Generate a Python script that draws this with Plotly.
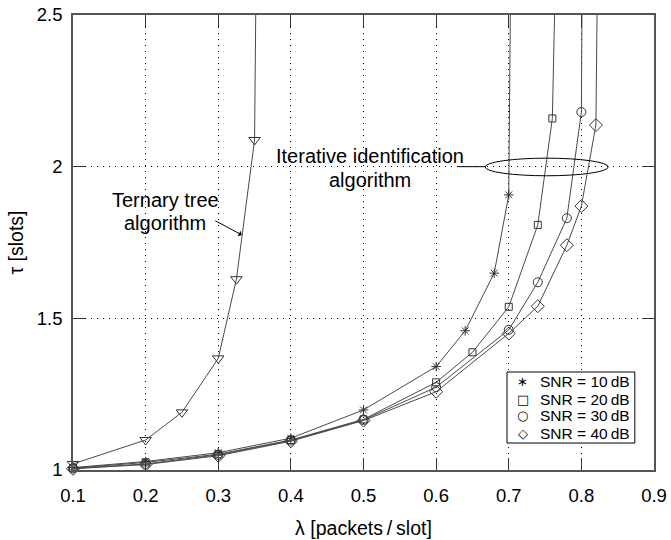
import plotly.graph_objects as go

# ---- data ----
tern_lam = [0.1, 0.2, 0.25, 0.3, 0.325, 0.35]
tern_tau = [1.02, 1.099, 1.19, 1.368, 1.629, 2.088]
tern_asym = 0.352

snr10_lam = [0.1, 0.2, 0.3, 0.4, 0.5, 0.6, 0.64, 0.68, 0.7]
snr10_tau = [1.008, 1.028, 1.057, 1.105, 1.198, 1.341, 1.459, 1.649, 1.907]
snr10_asym = 0.7025

snr20_lam = [0.1, 0.2, 0.3, 0.4, 0.5, 0.6, 0.65, 0.7, 0.74, 0.76]
snr20_tau = [1.006, 1.025, 1.052, 1.099, 1.167, 1.289, 1.388, 1.538, 1.808, 2.159]
snr20_asym = 0.764

snr30_lam = [0.1, 0.2, 0.3, 0.4, 0.5, 0.6, 0.7, 0.74, 0.78, 0.8]
snr30_tau = [1.005, 1.02, 1.05, 1.097, 1.165, 1.273, 1.462, 1.619, 1.83, 2.18]
snr30_asym = 0.801

snr40_lam = [0.1, 0.2, 0.3, 0.4, 0.5, 0.6, 0.7, 0.74, 0.78, 0.8, 0.82]
snr40_tau = [1.004, 1.018, 1.047, 1.095, 1.163, 1.258, 1.45, 1.54, 1.741, 1.87, 2.137]
snr40_asym = 0.822

tau_beyond = 2.6  # curves diverge above the plotted range

legend_labels = ["SNR = 10\u2009dB", "SNR = 20\u2009dB", "SNR = 30\u2009dB", "SNR = 40\u2009dB"]
legend_glyphs = ["\u2217", "\u25a1", "\u25cb", "\u25c7"]

series = [
    (snr10_lam, snr10_tau, snr10_asym, "asterisk-open", 8),
    (snr20_lam, snr20_tau, snr20_asym, "square-open", 7),
    (snr30_lam, snr30_tau, snr30_asym, "circle-open", 9),
    (snr40_lam, snr40_tau, snr40_asym, "diamond-open", 10),
]

x_ticks = [0.1, 0.2, 0.3, 0.4, 0.5, 0.6, 0.7, 0.8, 0.9]
y_ticks = [1, 1.5, 2, 2.5]
y_ticktext = ["1", "1.5", "2", "2.5"]

LINE = "#4a4a4a"
MK = "#333333"
FONT = "Liberation Sans, Arial, sans-serif"

fig = go.Figure()

# ternary tree
fig.add_trace(go.Scatter(x=tern_lam + [tern_asym], y=tern_tau + [tau_beyond], mode="lines",
                         line=dict(color=LINE, width=1), showlegend=False, hoverinfo="skip"))
fig.add_trace(go.Scatter(x=tern_lam, y=tern_tau, mode="markers", cliponaxis=False,
                         marker=dict(symbol="triangle-down-open", size=10, color=MK, line=dict(width=1, color=MK)),
                         showlegend=False))

for (lam, tau, asym, sym, sz), name in zip(series, legend_labels):
    fig.add_trace(go.Scatter(x=lam + [asym], y=tau + [tau_beyond], mode="lines",
                             line=dict(color=LINE, width=1), showlegend=False, hoverinfo="skip"))
    fig.add_trace(go.Scatter(x=lam, y=tau, mode="markers", cliponaxis=False, name=name,
                             marker=dict(symbol=sym, size=sz, color=MK, line=dict(width=1, color=MK)),
                             showlegend=False))

# annotation: ellipse around the iterative curves
fig.add_shape(type="circle", xref="x", yref="y", x0=0.6675, x1=0.837, y0=1.970, y1=2.028,
              line=dict(color="black", width=1))
fig.add_shape(type="line", xref="x", yref="y", x0=0.630, x1=0.6675, y0=2.0, y1=2.0,
              line=dict(color="black", width=1))

ann_font = dict(family=FONT, size=20, color="black")
fig.add_annotation(x=0.509, y=2.035, xref="x", yref="y", showarrow=False,
                   text="Iterative identification", font=ann_font)
fig.add_annotation(x=0.509, y=1.957, xref="x", yref="y", showarrow=False,
                   text="algorithm", font=ann_font)
fig.add_annotation(x=0.2267, y=1.890, xref="x", yref="y", showarrow=False,
                   text="Ternary tree", font=ann_font)
fig.add_annotation(x=0.2267, y=1.815, xref="x", yref="y", showarrow=False,
                   text="algorithm", font=ann_font)
fig.add_annotation(x=0.3324, y=1.775, xref="x", yref="y", text="", showarrow=True,
                   ax=-28, ay=-15, arrowhead=1, arrowsize=1, arrowwidth=1, arrowcolor="black")

# legend box (built from text so rows match the reference spacing)
fig.add_shape(type="rect", xref="paper", yref="paper", x0=0.747, x1=0.967, y0=0.0593, y1=0.2154,
              line=dict(color="black", width=1), fillcolor="white", layer="above")
row_y = [0.194, 0.155, 0.119, 0.081]
for gy, glyph, label in zip(row_y, legend_glyphs, legend_labels):
    fig.add_annotation(x=0.774, y=gy, xref="paper", yref="paper", showarrow=False,
                       text=glyph, xanchor="center", yanchor="middle", borderpad=0,
                       font=dict(family="DejaVu Sans", size=13, color="black"))
    fig.add_annotation(x=0.8015, y=gy, xref="paper", yref="paper", showarrow=False,
                       text=label, xanchor="left", yanchor="middle", borderpad=0,
                       font=dict(family=FONT, size=15.5, color="black"))

fig.update_layout(
    width=671, height=540,
    margin=dict(l=73, r=17, t=15, b=70),
    paper_bgcolor="white", plot_bgcolor="white",
    font=dict(family=FONT, size=18.5, color="black"),
    showlegend=False,
    xaxis=dict(range=[0.1, 0.9], tickvals=x_ticks, ticktext=[f"{v:.1f}" for v in x_ticks],
               ticks="inside", ticklen=12, tickcolor="#333", mirror="allticks",
               showline=True, linecolor="#555", linewidth=1.5,
               showgrid=True, gridcolor="black", griddash="1px,5px", gridwidth=1,
               zeroline=False, ticklabelstandoff=8, automargin=False,
               tickfont=dict(size=18.5),
               title=dict(text="λ [packets\u2009/\u2009slot]", font=dict(size=19.5), standoff=16)),
    yaxis=dict(range=[1, 2.5], tickvals=y_ticks, ticktext=y_ticktext,
               ticks="inside", ticklen=12, tickcolor="#333", mirror="allticks",
               showline=True, linecolor="#555", linewidth=1.5,
               showgrid=True, gridcolor="black", griddash="1px,5px", gridwidth=1,
               zeroline=False, ticklabelstandoff=5, automargin=False,
               tickfont=dict(size=18.5),
               title=dict(text="τ [slots]", font=dict(size=19.5), standoff=8)),
)

fig.write_html("out.html")
